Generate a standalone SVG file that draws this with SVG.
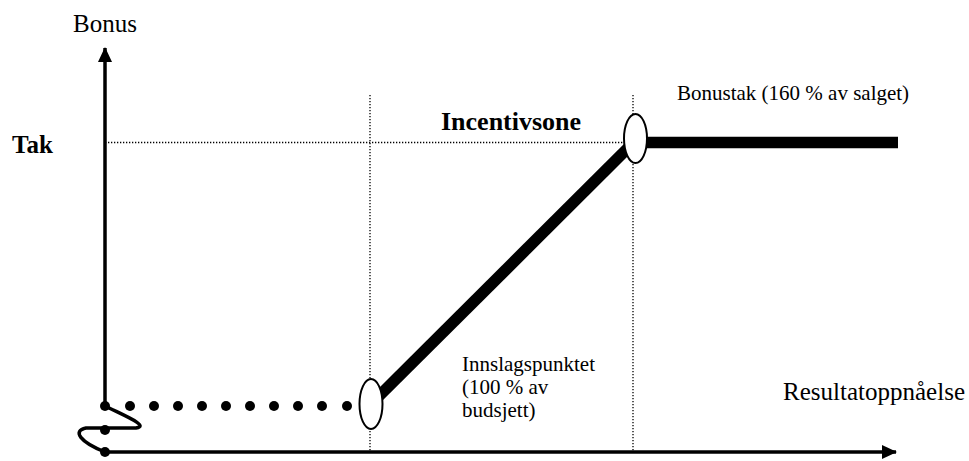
<svg xmlns="http://www.w3.org/2000/svg" width="969" height="461" viewBox="0 0 969 461">
<defs>
<style>
.t{font-family:"Liberation Serif","Times New Roman",serif;fill:#000}
.b{font-weight:bold}
.dot{stroke:#000;stroke-width:1.3;stroke-dasharray:1.3 1.7;fill:none}
.axis{stroke:#000;stroke-width:3.5;fill:none}
.thick{stroke:#000;stroke-width:11.5;fill:none}
.ell{fill:#fff;stroke:#000;stroke-width:2}
</style>
<marker id="ah" viewBox="0 0 15 14" refX="14" refY="7" markerWidth="15" markerHeight="14" markerUnits="userSpaceOnUse" orient="auto"><path d="M0,0 L15,7 L0,14 z" fill="#000"/></marker>
</defs>
<rect width="969" height="461" fill="#fff"/>
<g id="guides">
<line class="dot" x1="105" y1="142.5" x2="625" y2="142.5"/>
<line class="dot" x1="370" y1="95" x2="370" y2="451"/>
<line class="dot" x1="633" y1="95" x2="633" y2="451"/>
</g>
<g id="connectors">
<line class="axis" x1="105" y1="406" x2="105" y2="48" marker-end="url(#ah)"/>
<line class="axis" x1="105" y1="452" x2="896" y2="452" marker-end="url(#ah)"/>
<path class="axis" d="M105,406 C125,416 150,426 136,428 L86,428 C72,431 80,442 105,452" stroke-width="2.8"/>
<line class="thick" x1="377" y1="398" x2="630" y2="146"/>
<line class="thick" x1="645" y1="142.5" x2="898" y2="142.5"/>
</g>
<g id="dots" fill="#000">
<circle cx="105" cy="406" r="5"/>
<circle cx="105" cy="430" r="5"/>
<circle cx="105" cy="452" r="5"/>
<circle cx="130" cy="406" r="5"/>
<circle cx="154" cy="406" r="5"/>
<circle cx="178" cy="406" r="5"/>
<circle cx="202" cy="406" r="5"/>
<circle cx="226" cy="406" r="5"/>
<circle cx="250" cy="406" r="5"/>
<circle cx="274" cy="406" r="5"/>
<circle cx="298" cy="406" r="5"/>
<circle cx="322" cy="406" r="5"/>
<circle cx="347" cy="406" r="5"/>
</g>
<g id="innslag"><ellipse class="ell" cx="371" cy="404" rx="11.5" ry="25"/></g>
<g id="bonustak"><ellipse class="ell" cx="635.5" cy="138.5" rx="11.5" ry="24.5"/></g>
<g id="labels">
<text class="t" x="73" y="32" font-size="25">Bonus</text>
<text class="t b" x="12" y="153" font-size="25">Tak</text>
<text class="t b" x="441" y="130" font-size="26">Incentivsone</text>
<text class="t" x="677" y="100" font-size="21">Bonustak (160 % av salget)</text>
<text class="t" x="462" y="371" font-size="21">Innslagspunktet</text>
<text class="t" x="462" y="394" font-size="21">(100 % av</text>
<text class="t" x="462" y="417" font-size="21">budsjett)</text>
<text class="t" x="965" y="400" font-size="25" text-anchor="end">Resultatoppnåelse</text>
</g>
</svg>
